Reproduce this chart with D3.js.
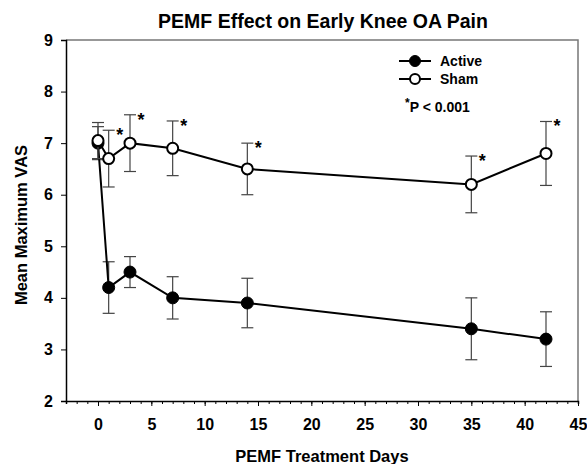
<!DOCTYPE html>
<html>
<head>
<meta charset="utf-8">
<script src="https://cdn.jsdelivr.net/npm/d3@7"></script>
<style>
  body { margin: 0; background: #fff; }
  svg text { font-family: "Liberation Sans", Arial, sans-serif; font-weight: bold; fill: #000; }
</style>
</head>
<body>
<div id="chart"></div>
<script>
// PEMF trial: mean max VAS over treatment days, active vs sham, +/- error bars.
const days = [0, 1, 3, 7, 14, 35, 42];
const activeMean = [7.0, 4.2, 4.5, 4.0, 3.9, 3.4, 3.2];
const activeErr  = [0.32, 0.5, 0.3, 0.41, 0.48, 0.6, 0.53];
const shamMean   = [7.05, 6.7, 7.0, 6.9, 6.5, 6.2, 6.8];
const shamErr    = [0.35, 0.55, 0.55, 0.53, 0.5, 0.55, 0.62];
const xTicks = [0, 5, 10, 15, 20, 25, 30, 35, 40, 45];
const yTicks = [2, 3, 4, 5, 6, 7, 8, 9];

const W = 587, H = 464;
const m = { left: 66, right: 9, top: 40, bottom: 63 };
const x = d3.scaleLinear([-3, 45], [m.left, W - m.right]);
const y = d3.scaleLinear([2, 9], [H - m.bottom, m.top]);

const svg = d3.select("#chart").append("svg")
  .attr("width", W).attr("height", H);

// frame: grey top/right
svg.append("path")
  .attr("d", `M${x(-3)},${y(9)}H${x(45)}V${y(2)}`)
  .attr("fill", "none").attr("stroke", "#777").attr("stroke-width", 1.5);

// x axis: minor ticks every day, labelled majors every 5
const xa = svg.append("g").attr("transform", `translate(0,${y(2)})`);
xa.call(d3.axisBottom(x).tickValues(d3.range(-3, 46)).tickSize(3).tickFormat(""));
xa.selectAll(".tick line").attr("stroke", "#000");
xa.select(".domain").attr("stroke", "#000").attr("stroke-width", 1.5);
const xb = svg.append("g").attr("transform", `translate(0,${y(2)})`);
xb.call(d3.axisBottom(x).tickValues(xTicks).tickSize(5).tickPadding(13));
xb.select(".domain").remove();
xb.selectAll(".tick line").attr("stroke", "#000");
xb.selectAll(".tick text").style("font-size", "16px");

const ya = svg.append("g").attr("transform", `translate(${x(-3)},0)`);
ya.call(d3.axisLeft(y).tickValues(yTicks).tickFormat(d3.format("d")).tickSize(5).tickPadding(8));
ya.select(".domain").attr("stroke", "#000").attr("stroke-width", 1.5);
ya.selectAll(".tick line").attr("stroke", "#000");
ya.selectAll(".tick text").style("font-size", "16px");

svg.append("text").attr("x", 323).attr("y", 28).attr("text-anchor", "middle")
  .style("font-size", "19.5px").text("PEMF Effect on Early Knee OA Pain");
svg.append("text").attr("x", 322).attr("y", 462).attr("text-anchor", "middle")
  .style("font-size", "16.5px").text("PEMF Treatment Days");
svg.append("text").attr("transform", `translate(27,225) rotate(-90)`)
  .attr("text-anchor", "middle").style("font-size", "16.5px").text("Mean Maximum VAS");

function series(mean, err, filled, stars) {
  const pts = days.map((d, i) => ({ d, v: mean[i], e: err[i], i }));
  const g = svg.append("g");
  g.selectAll("g.eb").data(pts).join("g").attr("class", "eb")
    .attr("stroke", "#444").attr("stroke-width", 1.2)
    .each(function (p) {
      const s = d3.select(this), cx = x(p.d);
      s.append("line").attr("x1", cx).attr("x2", cx).attr("y1", y(p.v - p.e)).attr("y2", y(p.v + p.e));
      [p.v - p.e, p.v + p.e].forEach((v) =>
        s.append("line").attr("x1", cx - 6).attr("x2", cx + 6).attr("y1", y(v)).attr("y2", y(v)));
    });
  g.append("path").datum(pts)
    .attr("fill", "none").attr("stroke", "#000").attr("stroke-width", 2)
    .attr("d", d3.line().x((p) => x(p.d)).y((p) => y(p.v)));
  g.selectAll("circle").data(pts).join("circle")
    .attr("cx", (p) => x(p.d)).attr("cy", (p) => y(p.v))
    .attr("r", filled ? 6 : 5.5)
    .attr("fill", filled ? "#000" : "#fff")
    .attr("stroke", "#000").attr("stroke-width", filled ? 1 : 2);
  if (stars) {
    g.selectAll("text.star").data(pts.filter((p) => p.i > 0)).join("text")
      .attr("class", "star").attr("text-anchor", "middle")
      .attr("x", (p) => x(p.d) + 11).attr("y", (p) => y(p.v + p.e) + 11)
      .style("font-size", "18px").text("*");
  }
}
series(activeMean, activeErr, true, false);
series(shamMean, shamErr, false, true);

// legend
const lg = svg.append("g");
[["Active", true, 61], ["Sham", false, 79]].forEach(([name, filled, ly]) => {
  lg.append("line").attr("x1", 399).attr("x2", 431).attr("y1", ly).attr("y2", ly)
    .attr("stroke", "#000").attr("stroke-width", 2);
  lg.append("circle").attr("cx", 415).attr("cy", ly).attr("r", filled ? 5.5 : 5)
    .attr("fill", filled ? "#000" : "#fff").attr("stroke", "#000").attr("stroke-width", filled ? 1 : 2);
  lg.append("text").attr("x", 440).attr("y", ly + 5).style("font-size", "14px").text(name);
});
const pt = lg.append("text").attr("x", 405).attr("y", 112).style("font-size", "14px");
pt.append("tspan").attr("dy", "-5").style("font-size", "12px").text("*");
pt.append("tspan").attr("dy", "5").text("P < 0.001");
</script>
</body>
</html>
